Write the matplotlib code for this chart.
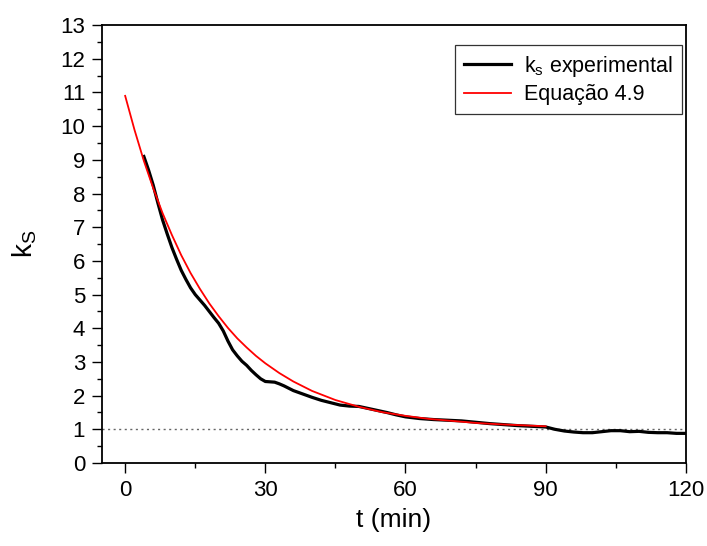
import matplotlib
matplotlib.use("Agg")
import matplotlib.pyplot as plt
from matplotlib.ticker import MultipleLocator

# ======================
# 数据
# ======================
# k_s experimental
t_exp = [4, 5, 6, 7, 8, 9, 10, 11, 12, 13, 14, 15, 16, 17, 18, 19, 20, 21,
         22, 23, 24, 25, 26, 27, 28, 29, 30, 31, 32, 33, 34, 35, 36, 38, 40,
         42, 44, 46, 48, 50, 52, 54, 56, 58, 60, 63, 66, 69, 72, 75, 78, 81,
         84, 87, 90, 92, 94, 96, 98, 100, 102, 104, 106, 108, 110, 112, 114,
         116, 118, 120]
k_exp = [9.10, 8.70, 8.25, 7.72, 7.22, 6.80, 6.40, 6.05, 5.72, 5.45, 5.20,
         5.00, 4.84, 4.68, 4.50, 4.32, 4.15, 3.92, 3.62, 3.36, 3.18, 3.02,
         2.90, 2.75, 2.62, 2.50, 2.42, 2.41, 2.40, 2.35, 2.29, 2.22, 2.15,
         2.05, 1.95, 1.86, 1.79, 1.72, 1.69, 1.68, 1.62, 1.56, 1.50, 1.43,
         1.37, 1.32, 1.29, 1.27, 1.25, 1.21, 1.17, 1.14, 1.11, 1.09, 1.07,
         1.00, 0.95, 0.92, 0.90, 0.90, 0.93, 0.96, 0.96, 0.93, 0.94, 0.91,
         0.90, 0.90, 0.88, 0.88]

# Equação 4.9
t_eq = [0, 2, 4, 6, 8, 10, 12, 14, 16, 18, 20, 22, 24, 26, 28, 30, 33, 36,
        40, 45, 50, 55, 60, 65, 70, 75, 80, 85, 90]
k_eq = [10.90, 9.89, 8.97, 8.16, 7.42, 6.77, 6.17, 5.64, 5.17, 4.74, 4.36,
        4.01, 3.70, 3.43, 3.18, 2.96, 2.67, 2.42, 2.14, 1.87, 1.67, 1.51,
        1.40, 1.31, 1.25, 1.19, 1.15, 1.12, 1.09]

k_ref = 1.0

x_ticks = [0, 30, 60, 90, 120]
y_ticks = list(range(0, 14))

# ======================
# 作图
# ======================
plt.rcParams["font.family"] = ["Liberation Sans", "DejaVu Sans"]
plt.rcParams["mathtext.fontset"] = "custom"
plt.rcParams["mathtext.rm"] = "Liberation Sans"
plt.rcParams["mathtext.it"] = "Liberation Sans"

fig = plt.figure(figsize=(7.07, 5.46), dpi=100)
ax = fig.add_axes([0.144, 0.152, 0.826, 0.802])

ax.axhline(k_ref, color="#666666", linestyle=(0, (1.5, 2.5)), linewidth=1.0, zorder=1)
ax.plot(t_exp, k_exp, color="black", linewidth=2.3,
        label=r"k$_{\mathregular{s}}$ experimental", zorder=2)
ax.plot(t_eq, k_eq, color="red", linewidth=1.3, label="Equação 4.9", zorder=3)

ax.set_xlim(-5, 120)
ax.set_ylim(0, 13)
ax.set_xticks(x_ticks)
ax.set_yticks(y_ticks)
ax.xaxis.set_minor_locator(MultipleLocator(15))
ax.yaxis.set_minor_locator(MultipleLocator(0.5))

ax.tick_params(which="major", direction="out", length=7, width=1.0, labelsize=16, pad=5)
ax.tick_params(which="minor", direction="out", length=3.5, width=1.0)
for side in ["left", "bottom", "right", "top"]:
    ax.spines[side].set_linewidth(1.3)

ax.set_xlabel("t (min)", fontsize=19, labelpad=5)
ax.set_ylabel(r"k$_{\mathregular{S}}$", fontsize=20, labelpad=15)

leg = ax.legend(loc="upper right", fontsize=15.5, frameon=True, fancybox=False,
                edgecolor="black", handlelength=2.2, borderpad=0.4,
                handletextpad=0.6, labelspacing=0.25, borderaxespad=0,
                bbox_to_anchor=(0.993, 0.954))
leg.get_frame().set_linewidth(0.9)

plt.savefig("out.png", dpi=100)
plt.close()
